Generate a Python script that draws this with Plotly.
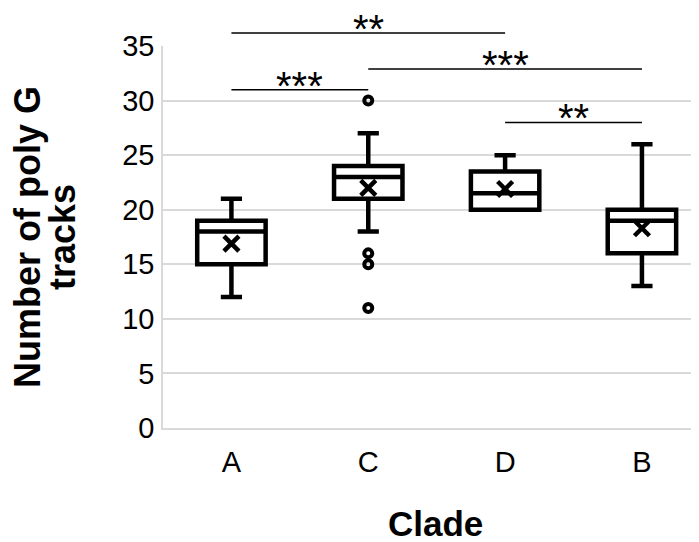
import plotly.graph_objects as go

# ---- data ----
categories = ["A", "C", "D", "B"]
q1 = [15, 21, 20, 16]
medians = [18, 23, 21.5, 19]
q3 = [19, 24, 23.5, 20]
lower_whisker = [12, 18, 20, 13]
upper_whisker = [21, 27, 25, 26]
means = [16.9, 22.0, 21.9, 18.3]
outlier_cat = ["C", "C", "C", "C"]
outlier_val = [30, 16, 15, 11]
y_ticks = [0, 5, 10, 15, 20, 25, 30, 35]

# significance comparisons: (from index, to index, label, height in data units)
sig_from = [0, 1, 0, 2]
sig_to = [2, 3, 1, 3]
sig_label = ["**", "***", "***", "**"]
sig_height = [36.2, 32.9, 31.0, 28.0]

FONT = "Liberation Sans, Arial, sans-serif"
YMAX = 35

# page has an 8px body margin; plot area target in page px: left 163, top 46, 536x382
fig = go.Figure()
for i, c in enumerate(categories):
    fig.add_trace(go.Box(
        x=[c], q1=[q1[i]], median=[medians[i]], q3=[q3[i]],
        lowerfence=[lower_whisker[i]], upperfence=[upper_whisker[i]],
        fillcolor="white", line=dict(color="black", width=4.5),
        width=0.5, whiskerwidth=0.31, boxpoints=False, showlegend=False,
        hoverinfo="skip",
    ))

fig.add_trace(go.Scatter(
    x=categories, y=means, mode="markers", showlegend=False,
    marker=dict(symbol="x-thin", size=15, color="black",
                line=dict(color="black", width=4.5)),
))
fig.add_trace(go.Scatter(
    x=outlier_cat, y=outlier_val, mode="markers", showlegend=False,
    marker=dict(symbol="circle-open", size=8, color="black",
                line=dict(color="black", width=4)),
))

shapes = []
annotations = []
for a, b, lab, h in zip(sig_from, sig_to, sig_label, sig_height):
    shapes.append(dict(type="line", xref="x", yref="paper", x0=a, x1=b,
                       y0=h / YMAX, y1=h / YMAX,
                       line=dict(color="black", width=1.5)))
    annotations.append(dict(text=lab, xref="x", yref="paper", x=(a + b) / 2,
                            y=h / YMAX, yanchor="bottom", yshift=-20,
                            showarrow=False,
                            font=dict(family=FONT, size=40, color="black")))

annotations.append(dict(text="<b>Number of poly G</b>", xref="paper", yref="paper",
                        x=(27 - 163) / 536, y=0.5, xanchor="center", yanchor="middle",
                        textangle=-90, showarrow=False,
                        font=dict(family=FONT, size=36, color="black")))
annotations.append(dict(text="<b>tracks</b>", xref="paper", yref="paper",
                        x=(62 - 163) / 536, y=0.5, xanchor="center", yanchor="middle",
                        textangle=-90, showarrow=False,
                        font=dict(family=FONT, size=36, color="black")))
annotations.append(dict(text="<b>Clade</b>", xref="paper", yref="paper",
                        x=(435 - 163) / 536, y=(428 - 523) / 382,
                        xanchor="center", yanchor="middle", showarrow=False,
                        font=dict(family=FONT, size=35, color="black")))

fig.update_layout(
    width=691, height=534,
    margin=dict(l=155, r=0, t=38, b=114, pad=0),
    paper_bgcolor="white", plot_bgcolor="white",
    font=dict(family=FONT, size=29, color="black"),
    shapes=shapes, annotations=annotations,
    xaxis=dict(type="category", categoryorder="array", categoryarray=categories,
               range=[-0.5, 3.417], showgrid=False, showline=True,
               linecolor="#d9d9d9", linewidth=1.5,
               ticks="outside", ticklen=7, tickcolor="rgba(0,0,0,0)",
               tickfont=dict(family=FONT, size=29, color="black")),
    yaxis=dict(range=[0, YMAX], tickvals=y_ticks, showgrid=True,
               gridcolor="#d9d9d9", gridwidth=1.5, zeroline=False,
               showline=True, linecolor="#d9d9d9", linewidth=1.5,
               ticks="outside", ticklen=1, tickcolor="rgba(0,0,0,0)",
               tickfont=dict(family=FONT, size=29, color="black")),
)

fig.write_html("out.html")
